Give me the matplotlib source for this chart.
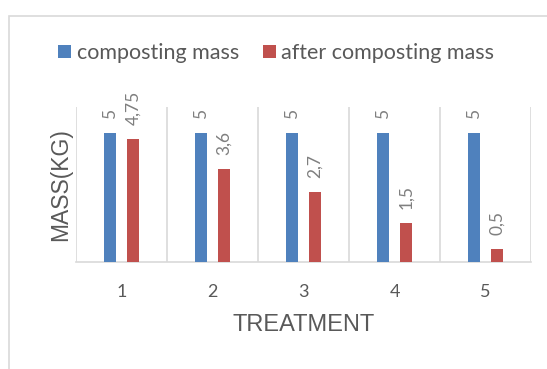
import matplotlib
matplotlib.use("Agg")
import matplotlib.pyplot as plt
from matplotlib.patches import Rectangle
import numpy as np

# datos del grafico
treatments = ["1", "2", "3", "4", "5"]
composting = [5, 5, 5, 5, 5]
after_composting = [4.75, 3.6, 2.7, 1.5, 0.5]
composting_labels = ["5", "5", "5", "5", "5"]
after_labels = ["4,75", "3,6", "2,7", "1,5", "0,5"]

blue = "#4F81BD"
red = "#C0504D"
txt = "#595959"
grid = "#D9D9D9"

fig = plt.figure(figsize=(5.47, 3.69), dpi=100)
# borde del area del grafico (recortado a la derecha y abajo)
fig.patches.append(Rectangle((9 / 547, -0.1), 1.2, 1.1 - 16 / 369,
                             transform=fig.transFigure, fill=False,
                             edgecolor=grid, linewidth=1.2))

ax = fig.add_axes([76 / 547, 1 - 262 / 369, 455 / 547, 155 / 369])

x = np.arange(len(treatments))
w = 0.132
off = 0.126
b1 = ax.bar(x - off, composting, w, color=blue, label="composting mass", zorder=3)
b2 = ax.bar(x + off, after_composting, w, color=red, label="after composting mass", zorder=3)

for rects, labs in ((b1, composting_labels), (b2, after_labels)):
    for r, lab in zip(rects, labs):
        ax.annotate(lab, (r.get_x() + r.get_width() / 2, r.get_height()),
                    xytext=(0, 10), textcoords="offset points",
                    rotation=90, ha="center", va="bottom",
                    fontsize=12.5, color="#7F7F7F", family="Lato")

ax.set_xlim(-0.5, len(treatments) - 0.5)
ax.set_ylim(0, 6)
for xv in np.arange(-0.5, len(treatments), 1.0):
    ax.axvline(xv, color=grid, linewidth=1.2, zorder=1)

for s in ("top", "right", "left"):
    ax.spines[s].set_visible(False)
ax.spines["bottom"].set_color(grid)
ax.spines["bottom"].set_linewidth(1.2)
ax.set_yticks([])
ax.set_xticks(x)
ax.set_xticklabels(treatments, fontsize=13, color=txt, family="Lato")
ax.tick_params(axis="x", length=0, pad=16)

ax.set_xlabel("TREATMENT", fontsize=17, color=txt, family="Liberation Sans", labelpad=10)
ax.set_ylabel("MASS(KG)", fontsize=16.5, color=txt, family="Liberation Sans", labelpad=3)

fig.legend(loc="center", bbox_to_anchor=(0.505, 1 - 53 / 369), ncol=2,
           frameon=False, prop={"family": "Lato", "size": 15.5},
           labelcolor=txt, handlelength=0.6, handleheight=0.6,
           handletextpad=0.25, columnspacing=1.1)

fig.savefig("out.png", dpi=100)
